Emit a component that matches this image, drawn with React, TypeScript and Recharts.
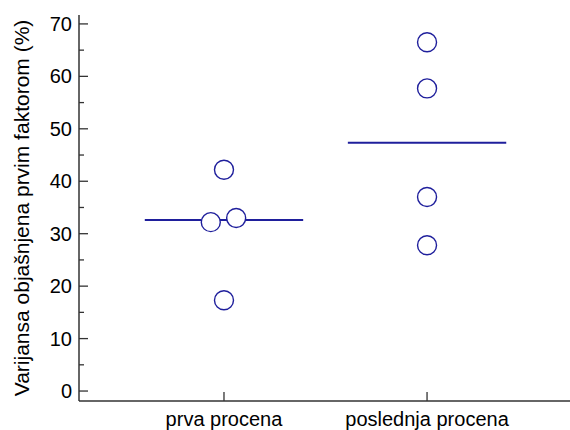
import { ScatterChart, Scatter, XAxis, YAxis, ReferenceLine, Label } from "recharts"

const categories = ["prva procena", "poslednja procena"]
const prvaValues = [42.2, 32.2, 33.0, 17.3]
const prvaJitter = [0, -0.065, 0.06, 0]
const poslednjaValues = [66.5, 57.7, 37.0, 27.8]
const poslednjaJitter = [0, 0, 0, 0]
const yTicks = [0, 5, 10, 15, 20, 25, 30, 35, 40, 45, 50, 55, 60, 65, 70]
const xDomain = [0.286, 2.704]
const yDomain = [-1.9, 71.7]

const groups = [
  { values: prvaValues, jitter: prvaJitter },
  { values: poslednjaValues, jitter: poslednjaJitter },
]

const median = (vals: number[]) => {
  const s = [...vals].sort((a, b) => a - b)
  const m = Math.floor(s.length / 2)
  return s.length % 2 ? s[m] : (s[m - 1] + s[m]) / 2
}

const points = groups.flatMap((g, i) => g.values.map((v, j) => ({ x: i + 1 + g.jitter[j], y: v })))

const BLUE = "#1f1f9c"
const AXIS = "#333333"
const FONT = "'Liberation Sans', Arial, sans-serif"

const YTick = (props: any) => {
  const { x, y, payload } = props
  const major = payload.value % 10 === 0
  return (
    <g>
      <line x1={x} y1={y} x2={x + (major ? 9 : 5)} y2={y} stroke={AXIS} strokeWidth={1.3} />
      {major ? (
        <text x={x - 7} y={y} textAnchor="end" dominantBaseline="central" fontSize={20} fontFamily={FONT} fill="#000">
          {payload.value}
        </text>
      ) : null}
    </g>
  )
}

const XTick = (props: any) => {
  const { x, y, payload } = props
  const label = categories[Math.round(payload.value) - 1]
  return (
    <g>
      <line x1={x} y1={y} x2={x} y2={y - 9} stroke={AXIS} strokeWidth={1.3} />
      <text x={x} y={y + 18} textAnchor="middle" dominantBaseline="central" fontSize={20} fontFamily={FONT} fill="#000">
        {label}
      </text>
    </g>
  )
}

const Ring = (props: any) => {
  const { cx, cy } = props
  return <circle cx={cx} cy={cy} r={9.5} fill="#fff" stroke={BLUE} strokeWidth={1.4} />
}

export default function App() {
  return (
    <div style={{ position: "absolute", left: 0, top: 0, width: 570, height: 430, background: "#fff", overflow: "hidden" }}>
      <ScatterChart width={570} height={430} margin={{ top: 15, right: 0, bottom: 0, left: 0 }}>
        <XAxis
          type="number"
          dataKey="x"
          domain={xDomain}
          ticks={[1, 2]}
          height={29}
          tickSize={0}
          tickMargin={0}
          tick={<XTick />}
          stroke={AXIS}
          strokeWidth={1.5}
          allowDataOverflow
        />
        <YAxis
          type="number"
          dataKey="y"
          domain={yDomain}
          ticks={yTicks}
          width={79}
          tickSize={0}
          tickMargin={0}
          tick={<YTick />}
          stroke={AXIS}
          strokeWidth={1.5}
          interval={0}
          allowDataOverflow
        >
          <Label
            content={({ viewBox }: any) => {
              const cx = viewBox.x + 21
              const cy = viewBox.y + viewBox.height / 2
              return (
                <text
                  x={cx}
                  y={cy}
                  transform={`rotate(-90, ${cx}, ${cy})`}
                  textAnchor="middle"
                  dominantBaseline="central"
                  fontSize={21}
                  fontFamily={FONT}
                  fill="#000"
                >
                  Varijansa objašnjena prvim faktorom (%)
                </text>
              )
            }}
          />
        </YAxis>
        {groups.map((g, i) => (
          <ReferenceLine
            key={i}
            segment={[
              { x: i + 1 - 0.39, y: median(g.values) },
              { x: i + 1 + 0.39, y: median(g.values) },
            ]}
            stroke={BLUE}
            strokeWidth={2}
          />
        ))}
        <Scatter data={points} shape={<Ring />} isAnimationActive={false} />
      </ScatterChart>
    </div>
  )
}
